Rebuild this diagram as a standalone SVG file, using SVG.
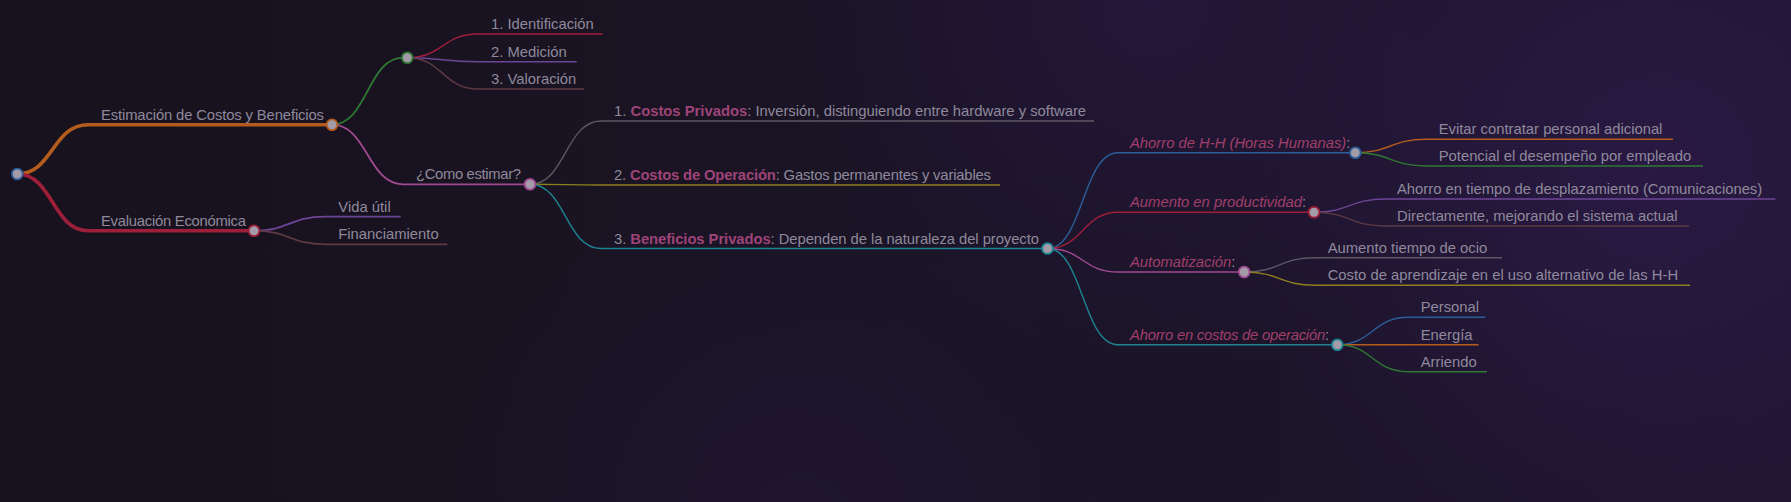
<svg xmlns="http://www.w3.org/2000/svg" width="1791" height="502" viewBox="0 0 1791 502">
<defs>
<linearGradient id="bg" x1="0" y1="0" x2="1" y2="0">
<stop offset="0" stop-color="#18121e"/>
<stop offset="0.55" stop-color="#1a1425"/>
<stop offset="1" stop-color="#1f1530"/>
</linearGradient>
<radialGradient id="glow1" cx="1650" cy="170" r="420" gradientUnits="userSpaceOnUse">
<stop offset="0" stop-color="#2c1a48" stop-opacity="0.8"/>
<stop offset="1" stop-color="#2c1a48" stop-opacity="0"/>
</radialGradient>
<radialGradient id="glow2" cx="1150" cy="0" r="380" gradientUnits="userSpaceOnUse">
<stop offset="0" stop-color="#2a1844" stop-opacity="0.6"/>
<stop offset="1" stop-color="#2a1844" stop-opacity="0"/>
</radialGradient>
<radialGradient id="glow3" cx="800" cy="520" r="350" gradientUnits="userSpaceOnUse">
<stop offset="0" stop-color="#24163a" stop-opacity="0.5"/>
<stop offset="1" stop-color="#24163a" stop-opacity="0"/>
</radialGradient>
</defs>
<style>
text{font-family:"Liberation Sans",Arial,sans-serif;font-size:14.8px;fill:#8f899c}
.b{font-weight:bold;fill:#9e4478}
.i{font-style:italic;fill:#a03f6a}
.c{fill:#a39ca8;stroke-width:1.8}
path,line{fill:none}
.d1{stroke-width:3.6}
.d2{stroke-width:1.8}
.d3{stroke-width:1.4}
.blue{stroke:#2c5f9a}.orange{stroke:#b35c1e}.green{stroke:#2e7a33}.red{stroke:#9e1f3a}
.purple{stroke:#6d4596}.brown{stroke:#5f3a42}.pink{stroke:#a04a91}.grey{stroke:#5d5866}
.olive{stroke:#8c7f1e}.cyan{stroke:#1e8493}
</style>
<rect width="1791" height="502" fill="url(#bg)"/>
<rect width="1791" height="502" fill="url(#glow1)"/>
<rect width="1791" height="502" fill="url(#glow2)"/>
<rect width="1791" height="502" fill="url(#glow3)"/>

<g id="connectors">
<path class="d1 orange" d="M17.3,174 C52.6,174 52.6,124.7 88,124.7 H332"/>
<path class="d1 red" d="M17.3,174 C52.6,174 52.6,230.7 88,230.7 H254"/>
<path class="d2 green" d="M332,124.7 C367.5,124.7 367.5,57.7 403,57.7 H407.3"/>
<path class="d2 pink" d="M332,124.7 C367.5,124.7 367.5,184.3 403,184.3 H530"/>
<path class="d2 purple" d="M254,230.7 C289.5,230.7 289.5,216.7 325,216.7 H400.7"/>
<path class="d2 brown" d="M254,230.7 C289.5,230.7 289.5,244.3 325,244.3 H447.3"/>
<path class="d3 red" d="M407.3,57.7 C442.7,57.7 442.7,34 478,34 H602.7"/>
<path class="d3 purple" d="M407.3,57.7 C442.7,57.7 442.7,61.7 478,61.7 H576.7"/>
<path class="d3 brown" d="M407.3,57.7 C442.7,57.7 442.7,89 478,89 H584.3"/>
<path class="d3 grey" d="M530,184.3 C565.5,184.3 565.5,121 601,121 H1094"/>
<path class="d3 olive" d="M530,184.3 C565.5,184.3 565.5,185 601,185 H1000"/>
<path class="d3 cyan" d="M530,184.3 C565.5,184.3 565.5,248.5 601,248.5 H1047.5"/>
<path class="d3 blue" d="M1047.5,248.5 C1082.7,248.5 1082.7,152.7 1118,152.7 H1355.3"/>
<path class="d3 red" d="M1047.5,248.5 C1082.7,248.5 1082.7,212.3 1118,212.3 H1314"/>
<path class="d3 pink" d="M1047.5,248.5 C1082.7,248.5 1082.7,272 1118,272 H1244.2"/>
<path class="d3 cyan" d="M1047.5,248.5 C1082.7,248.5 1082.7,344.7 1118,344.7 H1337.3"/>
<path class="d3 orange" d="M1355.3,152.7 C1390.6,152.7 1390.6,139.3 1426,139.3 H1673"/>
<path class="d3 green" d="M1355.3,152.7 C1390.6,152.7 1390.6,166 1426,166 H1703"/>
<path class="d3 purple" d="M1314,212.3 C1349.5,212.3 1349.5,199 1385,199 H1775.3"/>
<path class="d3 brown" d="M1314,212.3 C1349.5,212.3 1349.5,226 1385,226 H1689"/>
<path class="d3 grey" d="M1244.2,272 C1279.6,272 1279.6,257.7 1315,257.7 H1502"/>
<path class="d3 olive" d="M1244.2,272 C1279.6,272 1279.6,285.3 1315,285.3 H1690"/>
<path class="d3 blue" d="M1337.3,344.7 C1372.6,344.7 1372.6,317.3 1408,317.3 H1485.3"/>
<path class="d3 orange" d="M1337.3,344.7 C1372.6,344.7 1372.6,344.7 1408,344.7 H1478.7"/>
<path class="d3 green" d="M1337.3,344.7 C1372.6,344.7 1372.6,371.7 1408,371.7 H1487"/>
</g>

<g id="n-root"><circle class="c blue" cx="17.3" cy="174" r="5.4"/></g>
<g id="n-estimacion"><text x="101" y="119.7" textLength="223" lengthAdjust="spacing">Estimación de Costos y Beneficios</text><circle class="c orange" cx="332" cy="124.7" r="5.4"/></g>
<g id="n-evaluacion"><text x="101" y="225.7" textLength="145" lengthAdjust="spacing">Evaluación Económica</text><circle class="c red" cx="254" cy="230.7" r="5.4"/></g>
<g id="n-lista"><circle class="c green" cx="407.3" cy="57.7" r="5.4"/></g>
<g id="n-como"><text x="416" y="179.3" textLength="105" lengthAdjust="spacing">¿Como estimar?</text><circle class="c pink" cx="530" cy="184.3" r="5.4"/></g>
<g id="n-vida"><text x="338.3" y="211.7">Vida útil</text></g>
<g id="n-fin"><text x="338.3" y="239.3">Financiamiento</text></g>
<g id="n-ident"><text x="491" y="29">1. Identificación</text></g>
<g id="n-medicion"><text x="491" y="56.7">2. Medición</text></g>
<g id="n-valoracion"><text x="491" y="84">3. Valoración</text></g>
<g id="n-cpriv"><text x="614" y="116">1. <tspan class="b">Costos Privados</tspan>: Inversión, distinguiendo entre hardware y software</text></g>
<g id="n-coper"><text x="614" y="180" textLength="377" lengthAdjust="spacing">2. <tspan class="b">Costos de Operación</tspan>: Gastos permanentes y variables</text></g>
<g id="n-benef"><text x="614" y="243.5" textLength="425" lengthAdjust="spacing">3. <tspan class="b">Beneficios Privados</tspan>: Dependen de la naturaleza del proyecto</text><circle class="c cyan" cx="1047.5" cy="248.5" r="5.4"/></g>
<g id="n-hh"><text x="1130" y="147.7"><tspan class="i">Ahorro de H-H (Horas Humanas)</tspan>:</text><circle class="c blue" cx="1355.3" cy="152.7" r="5.4"/></g>
<g id="n-prod"><text x="1130" y="207.3"><tspan class="i">Aumento en productividad</tspan>:</text><circle class="c red" cx="1314" cy="212.3" r="5.4"/></g>
<g id="n-auto"><text x="1130" y="267"><tspan class="i">Automatización</tspan>:</text><circle class="c pink" cx="1244.2" cy="272" r="5.4"/></g>
<g id="n-ahcost"><text x="1130" y="339.7" textLength="199" lengthAdjust="spacing"><tspan class="i">Ahorro en costos de operación</tspan>:</text><circle class="c cyan" cx="1337.3" cy="344.7" r="5.4"/></g>
<g id="n-evitar"><text x="1438.7" y="134.3">Evitar contratar personal adicional</text></g>
<g id="n-potencial"><text x="1438.7" y="161">Potencial el desempeño por empleado</text></g>
<g id="n-ahtiempo"><text x="1397" y="194">Ahorro en tiempo de desplazamiento (Comunicaciones)</text></g>
<g id="n-directa"><text x="1397" y="221">Directamente, mejorando el sistema actual</text></g>
<g id="n-ocio"><text x="1327.7" y="252.7">Aumento tiempo de ocio</text></g>
<g id="n-costoap"><text x="1327.7" y="280.3">Costo de aprendizaje en el uso alternativo de las H-H</text></g>
<g id="n-personal"><text x="1420.7" y="312.3">Personal</text></g>
<g id="n-energia"><text x="1420.7" y="339.7">Energía</text></g>
<g id="n-arriendo"><text x="1420.7" y="366.7">Arriendo</text></g>
</svg>
